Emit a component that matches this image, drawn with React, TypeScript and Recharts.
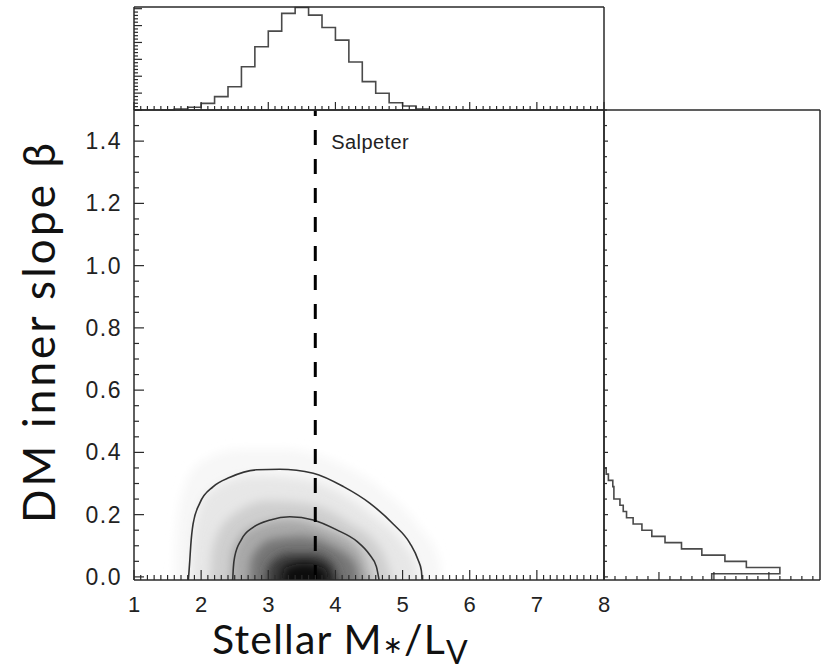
import React from 'react';
import { ComposedChart, LineChart, Line, Area, XAxis, YAxis, ReferenceLine, Label } from 'recharts';

const W = 825;
const H = 672;

// M*/L_V marginal (top panel): bin lower edges and heights
const mlEdges = [1.4, 1.6, 1.8, 2.0, 2.2, 2.4, 2.6, 2.8, 3.0, 3.2, 3.4, 3.6, 3.8, 4.0, 4.2, 4.4, 4.6, 4.8, 5.0, 5.2, 5.4];
const mlCounts = [0, 0.06, 0.16, 0.39, 0.79, 1.38, 2.56, 3.75, 4.67, 5.72, 6.07, 5.62, 4.89, 4.14, 2.84, 1.68, 0.99, 0.43, 0.24, 0.06, 0];

// beta marginal (right panel): bin lower edges and lengths
const betaEdges = [-0.01, 0.01, 0.03, 0.05, 0.07, 0.09, 0.11, 0.13, 0.15, 0.17, 0.19, 0.21, 0.23, 0.25, 0.27, 0.29, 0.31, 0.33, 0.35];
const betaCounts = [1.96, 3.2, 2.59, 2.2, 1.78, 1.41, 1.11, 0.87, 0.69, 0.53, 0.41, 0.35, 0.29, 0.18, 0.18, 0.16, 0.08, 0.04, 0];

// confidence contours [M*/L, beta]
const outerContour = [
  [1.81, -0.01], [1.83, 0.05], [1.845, 0.1], [1.88, 0.17], [1.98, 0.237], [2.18, 0.29], [2.43, 0.32],
  [2.83, 0.344], [3.17, 0.346], [3.67, 0.333], [4.12, 0.29], [4.51, 0.237], [4.86, 0.17], [5.11, 0.108],
  [5.23, 0.055], [5.28, 0.02], [5.29, -0.01],
];
const innerContour = [
  [2.47, -0.01], [2.48, 0.03], [2.5, 0.065], [2.6, 0.12], [2.78, 0.16], [3.03, 0.183], [3.32, 0.193],
  [3.67, 0.183], [4.02, 0.151], [4.32, 0.114], [4.51, 0.071], [4.61, 0.033], [4.65, -0.01],
];

// posterior density, drawn as nested grey levels (outermost first)
const shadeColors = ['#f7f7f7', '#e7e7e7', '#cfcfcf', '#a9a9a9', '#767676', '#3a3a3a', '#080808'];
const shadeLevels = [
  [[1.6, -0.1], [1.62, 0.12], [1.72, 0.27], [2.0, 0.37], [2.6, 0.41], [3.3, 0.41], [4.0, 0.37], [4.7, 0.28], [5.25, 0.16], [5.55, 0.05], [5.6, -0.1]],
  [[1.84, -0.1], [1.87, 0.1], [1.97, 0.22], [2.2, 0.285], [2.8, 0.325], [3.5, 0.315], [4.1, 0.265], [4.6, 0.19], [5.0, 0.11], [5.22, 0.02], [5.26, -0.1]],
  [[2.12, -0.1], [2.17, 0.09], [2.42, 0.19], [3.0, 0.245], [3.6, 0.235], [4.2, 0.175], [4.7, 0.08], [4.95, -0.1]],
  [[2.42, -0.1], [2.47, 0.08], [2.72, 0.155], [3.3, 0.185], [3.85, 0.155], [4.35, 0.09], [4.62, -0.1]],
  [[2.7, -0.1], [2.75, 0.06], [3.05, 0.12], [3.5, 0.13], [3.95, 0.1], [4.3, 0.04], [4.4, -0.1]],
  [[2.95, -0.1], [3.0, 0.035], [3.3, 0.075], [3.65, 0.075], [3.95, 0.045], [4.15, -0.1]],
  [[3.15, -0.1], [3.25, 0.03], [3.55, 0.045], [3.85, 0.025], [3.95, -0.1]],
];

const salpeterML = 3.7;

const xLabels = [1, 2, 3, 4, 5, 6, 7, 8];
const yLabels = [0, 0.2, 0.4, 0.6, 0.8, 1.0, 1.2, 1.4];

const toPts = (arr: number[][]) => arr.map(([x, b]) => ({ x, b }));
const mlHist = mlEdges.map((x, i) => ({ x, c: mlCounts[i] }));
const betaHist = betaEdges.map((b, i) => ({ b, n: betaCounts[i] }));

const steps = (a: number, b: number, s: number) => {
  const out: number[] = [];
  const n = Math.round((b - a) / s);
  for (let i = 0; i <= n; i++) out.push(+(a + i * s).toFixed(4));
  return out;
};
const isMult = (v: number, m: number) => Math.abs(v / m - Math.round(v / m)) < 1e-6;

const mlTicks = steps(1, 8, 0.1);
const betaTicks = steps(0, 1.5, 0.05);
const histYTicks = steps(0, 6, 0.2);
const histXTicks = steps(0, 3.8, 0.2);

const FONT = '"Liberation Sans", Arial, sans-serif';
const INK = '#2a2a2a';
const frame = { stroke: INK, strokeWidth: 1.5 };

type Side = 'bottom' | 'top' | 'left' | 'right';

const tickFactory = (side: Side, major: number, majorLen: number, minorLen: number, labels?: number[], fmt?: (v: number) => string) =>
  (props: any) => {
    const { x, y, payload } = props;
    const v = payload.value;
    const isMajor = isMult(v, major);
    const len = isMajor ? majorLen : minorLen;
    let x2 = x;
    let y2 = y;
    if (side === 'bottom') y2 = y - len;
    if (side === 'top') y2 = y + len;
    if (side === 'left') x2 = x + len;
    if (side === 'right') x2 = x - len;
    const showLabel = labels && labels.some((l) => Math.abs(l - v) < 1e-6);
    return (
      <g>
        <line x1={x} y1={y} x2={x2} y2={y2} stroke={INK} strokeWidth={1.2} />
        {showLabel && side === 'bottom' && (
          <text x={x} y={y + 32} textAnchor="middle" fontFamily={FONT} fontSize={22} fill="#222">
            {fmt ? fmt(v) : v}
          </text>
        )}
        {showLabel && side === 'left' && (
          <text x={x - 12} y={y + 8} textAnchor="end" fontFamily={FONT} fontSize={23} letterSpacing={1.5} fill="#222">
            {fmt ? fmt(v) : v}
          </text>
        )}
      </g>
    );
  };

const yTitle = () => (
  <text
    x={55}
    y={333}
    transform="rotate(-90 55 333)"
    textAnchor="middle"
    fontFamily="Lato, sans-serif"
    fontSize={44}
    textLength={380}
    lengthAdjust="spacing"
    fill="#111"
  >
    DM inner slope β
  </text>
);

const xTitle = () => (
  <text x={212} y={654} fontFamily="Lato, sans-serif" fontSize={41} letterSpacing={1.2} fill="#111">
    Stellar M
    <tspan fontFamily="DejaVu Sans" fontSize={24} dy={-1}>∗</tspan>
    <tspan dy={1}>/L</tspan>
    <tspan fontSize={32} dy={10}>V</tspan>
  </text>
);

const salpeterLabel = (p: any) => (
  <text x={p.viewBox.x + 16} y={149} fontFamily={FONT} fontSize={20} letterSpacing={0.4} fill="#222">
    Salpeter
  </text>
);

const flatAxis = {
  interval: 0 as const,
  tickSize: 0,
  tickMargin: 0,
  tickLine: false,
  axisLine: frame,
};

export default function App() {
  return (
    <div style={{ position: 'absolute', left: 0, top: 0, width: W, height: H, background: '#fff', overflow: 'hidden' }}>
      {/* joint posterior */}
      <div style={{ position: 'absolute', left: 0, top: 0 }}>
        <ComposedChart width={W} height={H} margin={{ top: 109, right: 220, bottom: 62, left: 74 }}>
          <defs>
            <filter id="soft" x="-50%" y="-50%" width="200%" height="200%">
              <feGaussianBlur stdDeviation="5" />
            </filter>
          </defs>
          <XAxis
            dataKey="x"
            type="number"
            domain={[1, 8]}
            ticks={mlTicks}
            height={30}
            allowDataOverflow
            {...flatAxis}
            tick={tickFactory('bottom', 1, 10, 5, xLabels)}
          >
            <Label content={xTitle} />
          </XAxis>
          <XAxis
            xAxisId="top"
            orientation="top"
            dataKey="x"
            type="number"
            domain={[1, 8]}
            ticks={mlTicks}
            height={1}
            {...flatAxis}
            tick={tickFactory('top', 1, 10, 5)}
          />
          <YAxis
            type="number"
            domain={[-0.01, 1.5]}
            ticks={betaTicks}
            width={60}
            allowDataOverflow
            {...flatAxis}
            tick={tickFactory('left', 0.2, 10, 5, yLabels, (v) => v.toFixed(1))}
          >
            <Label content={yTitle} />
          </YAxis>
          <YAxis
            yAxisId="right"
            orientation="right"
            type="number"
            domain={[-0.01, 1.5]}
            ticks={betaTicks}
            width={1}
            {...flatAxis}
            tick={tickFactory('right', 0.2, 10, 5)}
          />
          {shadeLevels.map((lvl, i) => (
            <Area
              key={`shade-${i}`}
              data={toPts(lvl)}
              dataKey="b"
              type="monotone"
              baseValue={-0.1}
              stroke="none"
              fill={shadeColors[i]}
              fillOpacity={1}
              style={{ filter: 'url(#soft)' }}
              dot={false}
              activeDot={false}
              isAnimationActive={false}
            />
          ))}
          <Line data={toPts(outerContour)} dataKey="b" type="monotone" stroke="#333" strokeWidth={1.6} dot={false} activeDot={false} isAnimationActive={false} />
          <Line data={toPts(innerContour)} dataKey="b" type="monotone" stroke="#333" strokeWidth={1.6} dot={false} activeDot={false} isAnimationActive={false} />
          <ReferenceLine x={salpeterML} stroke="#000" strokeWidth={3} strokeDasharray="15 14" label={{ content: salpeterLabel }} />
        </ComposedChart>
      </div>

      {/* stellar mass-to-light marginal */}
      <div style={{ position: 'absolute', left: 0, top: 0 }}>
        <LineChart width={W} height={H} margin={{ top: 6, right: 220, bottom: H - 111, left: 133 }}>
          <XAxis dataKey="x" type="number" domain={[1, 8]} ticks={mlTicks} height={1} {...flatAxis} tick={tickFactory('bottom', 1, 8, 4)} />
          <XAxis xAxisId="top" orientation="top" dataKey="x" type="number" domain={[1, 8]} ticks={mlTicks} height={1} {...flatAxis} tick={tickFactory('top', 1, 8, 4)} />
          <YAxis type="number" domain={[0, 6.1]} ticks={histYTicks} width={1} {...flatAxis} tick={tickFactory('left', 1, 8, 4)} />
          <YAxis yAxisId="right" orientation="right" type="number" domain={[0, 6.1]} ticks={histYTicks} width={1} {...flatAxis} tick={tickFactory('right', 1, 8, 4)} />
          <Line data={mlHist} dataKey="c" type="stepAfter" stroke="#4a4a4a" strokeWidth={1.6} dot={false} activeDot={false} isAnimationActive={false} />
        </LineChart>
      </div>

      {/* beta marginal */}
      <div style={{ position: 'absolute', left: 0, top: 0 }}>
        <LineChart layout="vertical" width={W} height={H} margin={{ top: 109, right: 4, bottom: 91, left: 603 }}>
          <XAxis type="number" domain={[0, 3.93]} ticks={histXTicks} height={1} {...flatAxis} tick={tickFactory('bottom', 1, 8, 4)} />
          <XAxis xAxisId="top" orientation="top" type="number" domain={[0, 3.93]} ticks={histXTicks} height={1} {...flatAxis} tick={tickFactory('top', 1, 8, 4)} />
          <YAxis dataKey="b" type="number" reversed domain={[-0.01, 1.5]} ticks={betaTicks} width={1} {...flatAxis} tick={tickFactory('left', 0.2, 4, 3)} />
          <YAxis yAxisId="right" orientation="right" dataKey="b" type="number" reversed domain={[-0.01, 1.5]} ticks={betaTicks} width={1} {...flatAxis} tick={tickFactory('right', 0.2, 6, 5)} />
          <Line data={betaHist} dataKey="n" type="stepBefore" stroke="#4a4a4a" strokeWidth={1.6} dot={false} activeDot={false} isAnimationActive={false} />
        </LineChart>
      </div>
    </div>
  );
}
